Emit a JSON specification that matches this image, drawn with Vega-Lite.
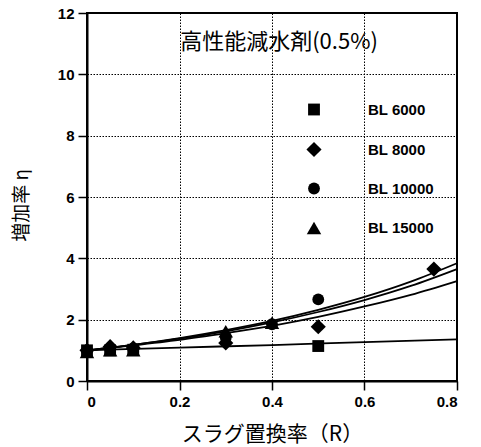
{
  "$schema": "https://vega.github.io/schema/vega-lite/v6.json",
  "width": 370,
  "height": 368,
  "autosize": {"type": "none"},
  "padding": {"left": 87, "top": 13, "right": 24, "bottom": 66},
  "background": "white",
  "title": {"text": "高性能減水剤(0.5%)", "font": "Noto Sans CJK JP", "fontSize": 22, "fontWeight": "normal", "offset": -48, "anchor": "middle", "dx": 7, "color": "black"},
  "config": {
    "view": {"stroke": "black", "strokeWidth": 2},
    "axis": {
      "domainColor": "black", "domainWidth": 2,
      "tickColor": "black", "tickWidth": 1.5, "tickSize": 9,
      "gridColor": "black", "gridDash": [1.5, 1.5], "gridWidth": 1, "gridOpacity": 1,
      "labelFont": "Liberation Sans", "labelFontSize": 15, "labelFontWeight": "bold", "labelColor": "black", "labelPadding": 4,
      "titleFont": "Noto Sans CJK JP", "titleFontWeight": "normal", "titleColor": "black"
    }
  },
  "datasets": {
    "points": [
      {"series": "BL 6000", "R": 0, "eta": 1.0},
      {"series": "BL 6000", "R": 0.05, "eta": 1.0},
      {"series": "BL 6000", "R": 0.1, "eta": 1.02},
      {"series": "BL 6000", "R": 0.5, "eta": 1.14},
      {"series": "BL 8000", "R": 0, "eta": 1.0},
      {"series": "BL 8000", "R": 0.05, "eta": 1.12},
      {"series": "BL 8000", "R": 0.1, "eta": 1.08},
      {"series": "BL 8000", "R": 0.3, "eta": 1.24},
      {"series": "BL 8000", "R": 0.5, "eta": 1.77},
      {"series": "BL 8000", "R": 0.75, "eta": 3.65},
      {"series": "BL 10000", "R": 0, "eta": 1.0},
      {"series": "BL 10000", "R": 0.05, "eta": 1.05},
      {"series": "BL 10000", "R": 0.1, "eta": 1.06},
      {"series": "BL 10000", "R": 0.3, "eta": 1.42},
      {"series": "BL 10000", "R": 0.4, "eta": 1.85},
      {"series": "BL 10000", "R": 0.5, "eta": 2.66},
      {"series": "BL 15000", "R": 0, "eta": 0.95},
      {"series": "BL 15000", "R": 0.05, "eta": 1.0},
      {"series": "BL 15000", "R": 0.1, "eta": 1.0},
      {"series": "BL 15000", "R": 0.3, "eta": 1.62},
      {"series": "BL 15000", "R": 0.4, "eta": 1.9}
    ],
    "curves": [
      {"curve": "a", "R": 0, "eta": 1.0},
      {"curve": "a", "R": 0.1, "eta": 1.18},
      {"curve": "a", "R": 0.2, "eta": 1.4},
      {"curve": "a", "R": 0.3, "eta": 1.66},
      {"curve": "a", "R": 0.4, "eta": 1.96},
      {"curve": "a", "R": 0.5, "eta": 2.32},
      {"curve": "a", "R": 0.6, "eta": 2.74},
      {"curve": "a", "R": 0.7, "eta": 3.24},
      {"curve": "a", "R": 0.8, "eta": 3.84},
      {"curve": "b", "R": 0, "eta": 1.0},
      {"curve": "b", "R": 0.1, "eta": 1.18},
      {"curve": "b", "R": 0.2, "eta": 1.38},
      {"curve": "b", "R": 0.3, "eta": 1.62},
      {"curve": "b", "R": 0.4, "eta": 1.91},
      {"curve": "b", "R": 0.5, "eta": 2.25},
      {"curve": "b", "R": 0.6, "eta": 2.64},
      {"curve": "b", "R": 0.7, "eta": 3.1},
      {"curve": "b", "R": 0.8, "eta": 3.65},
      {"curve": "c", "R": 0, "eta": 1.0},
      {"curve": "c", "R": 0.1, "eta": 1.16},
      {"curve": "c", "R": 0.2, "eta": 1.34},
      {"curve": "c", "R": 0.3, "eta": 1.56},
      {"curve": "c", "R": 0.4, "eta": 1.8},
      {"curve": "c", "R": 0.5, "eta": 2.09},
      {"curve": "c", "R": 0.6, "eta": 2.43},
      {"curve": "c", "R": 0.7, "eta": 2.81},
      {"curve": "c", "R": 0.8, "eta": 3.26},
      {"curve": "d", "R": 0, "eta": 1.0},
      {"curve": "d", "R": 0.2, "eta": 1.09},
      {"curve": "d", "R": 0.4, "eta": 1.17},
      {"curve": "d", "R": 0.6, "eta": 1.27},
      {"curve": "d", "R": 0.8, "eta": 1.36}
    ]
  },
  "layer": [
    {
      "data": {"name": "curves"},
      "mark": {"type": "line", "interpolate": "monotone", "color": "black", "strokeWidth": 1.8},
      "encoding": {
        "x": {"field": "R", "type": "quantitative", "scale": {"domain": [0, 0.8], "nice": false},
          "axis": {"values": [0, 0.2, 0.4, 0.6, 0.8], "format": "~g", "title": "スラグ置換率（R）", "titleFontSize": 21, "titleY": 53, "titleBaseline": "middle"}},
        "y": {"field": "eta", "type": "quantitative", "scale": {"domain": [0, 12], "nice": false},
          "axis": {"values": [0, 2, 4, 6, 8, 10, 12], "title": "増加率 η", "titleFontSize": 19, "titleX": -66, "titleY": 192, "titleBaseline": "middle"}},
        "detail": {"field": "curve", "type": "nominal"}
      }
    },
    {
      "data": {"name": "points"},
      "mark": {"type": "point", "filled": true, "color": "black", "opacity": 1},
      "encoding": {
        "x": {"field": "R", "type": "quantitative"},
        "y": {"field": "eta", "type": "quantitative"},
        "shape": {"field": "series", "type": "nominal",
          "scale": {"domain": ["BL 6000", "BL 8000", "BL 10000", "BL 15000"], "range": ["square", "diamond", "circle", "triangle-up"]},
          "legend": {"orient": "none", "legendX": 219, "legendY": 89, "title": null, "labelOffset": 46, "rowPadding": 23.5,
            "labelFont": "Liberation Sans", "labelFontSize": 15, "labelFontWeight": "bold", "labelColor": "black",
            "symbolFillColor": "black", "symbolStrokeColor": "black", "symbolStrokeWidth": 0, "symbolOpacity": 1}},
        "size": {"field": "series", "type": "nominal",
          "scale": {"type": "ordinal", "domain": ["BL 6000", "BL 8000", "BL 10000", "BL 15000"], "range": [140, 230, 140, 210]},
          "legend": {"orient": "none", "legendX": 219, "legendY": 89, "title": null, "labelOffset": 46, "rowPadding": 23.5,
            "labelFont": "Liberation Sans", "labelFontSize": 15, "labelFontWeight": "bold", "labelColor": "black",
            "symbolFillColor": "black", "symbolStrokeColor": "black", "symbolStrokeWidth": 0, "symbolOpacity": 1}}
      }
    }
  ]
}
